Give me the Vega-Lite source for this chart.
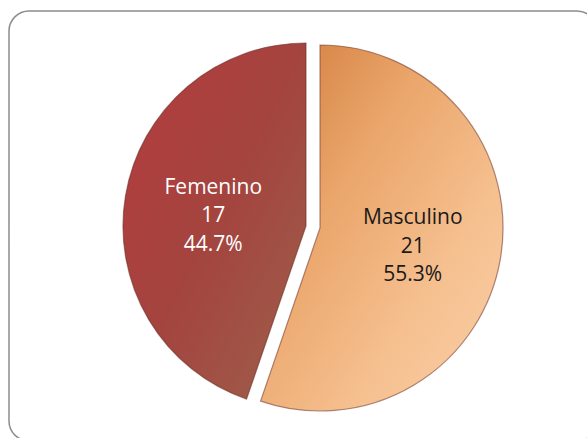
{
  "$schema": "https://vega.github.io/schema/vega-lite/v6.json",
  "autosize": "none",
  "padding": {"left": 9, "top": 11, "right": 0, "bottom": 0},
  "width": 588,
  "height": 430,
  "background": "white",
  "config": {
    "view": {"stroke": null}
  },
  "data": {
    "values": [
      {"sexo": "Masculino", "n": 21, "orden": 1, "etiqueta": "Masculino\n21\n55.3%"},
      {"sexo": "Femenino", "n": 17, "orden": 2, "etiqueta": "Femenino\n17\n44.7%"}
    ]
  },
  "layer": [
    {
      "data": {"values": [{"marco": 1}]},
      "mark": {
        "type": "rect",
        "fill": "white",
        "stroke": "#8c8c8c",
        "strokeWidth": 1.5,
        "cornerRadius": 20
      },
      "encoding": {}
    },
    {
      "transform": [
        {"stack": "n", "groupby": [], "sort": [{"field": "orden", "order": "ascending"}], "as": ["t0", "t1"]},
        {"filter": "datum.sexo == 'Masculino'"}
      ],
      "mark": {
        "type": "arc",
        "radius": 183,
        "xOffset": 17,
        "yOffset": 2,
        "stroke": "#7b4030",
        "strokeOpacity": 0.6,
        "strokeWidth": 1.2,
        "fill": {
          "gradient": "linear", "x1": 0, "y1": 0, "x2": 1, "y2": 1,
          "stops": [
            {"offset": 0, "color": "#cf7a3a"},
            {"offset": 0.35, "color": "#eaa56a"},
            {"offset": 0.7, "color": "#f6c191"},
            {"offset": 1, "color": "#f9cea6"}
          ]
        }
      },
      "encoding": {
        "theta": {"field": "t0", "type": "quantitative", "scale": {"domain": [0, 38]}},
        "theta2": {"field": "t1"}
      }
    },
    {
      "transform": [
        {"stack": "n", "groupby": [], "sort": [{"field": "orden", "order": "ascending"}], "as": ["t0", "t1"]},
        {"filter": "datum.sexo == 'Femenino'"}
      ],
      "mark": {
        "type": "arc",
        "radius": 183,
        "xOffset": 3,
        "yOffset": 0,
        "stroke": "#6e3028",
        "strokeOpacity": 0.6,
        "strokeWidth": 1.2,
        "fill": {
          "gradient": "linear", "x1": 0, "y1": 0, "x2": 1, "y2": 1,
          "stops": [
            {"offset": 0, "color": "#b43c3e"},
            {"offset": 0.5, "color": "#a4443f"},
            {"offset": 1, "color": "#9d604b"}
          ]
        }
      },
      "encoding": {
        "theta": {"field": "t0", "type": "quantitative", "scale": {"domain": [0, 38]}},
        "theta2": {"field": "t1"}
      }
    },
    {
      "mark": {
        "type": "text",
        "radius": 94,
        "yOffset": -23,
        "xOffset": {"expr": "datum.sexo == 'Masculino' ? 17 : 3"},
        "font": "Open Sans",
        "fontSize": 21,
        "lineBreak": "\n",
        "lineHeight": 28.5,
        "align": "center",
        "baseline": "middle"
      },
      "encoding": {
        "theta": {"field": "n", "type": "quantitative", "stack": true, "scale": {"domain": [0, 38]}},
        "order": {"field": "orden", "type": "quantitative"},
        "text": {"field": "etiqueta"},
        "color": {
          "field": "sexo", "type": "nominal", "legend": null,
          "scale": {"domain": ["Masculino", "Femenino"], "range": ["#1a1a1a", "#ffffff"]}
        }
      }
    }
  ]
}
